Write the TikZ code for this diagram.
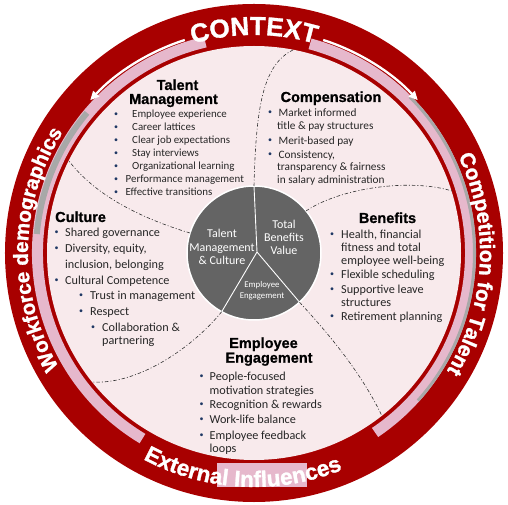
\documentclass[tikz,border=0pt]{standalone}
\usepackage{fontspec}
\setmainfont{Carlito}
\newfontfamily\ringfont[FakeBold=1.2]{Liberation Sans Bold}
\newfontfamily\titlefont[FakeBold=0.8]{Liberation Sans Bold}
\usetikzlibrary{decorations.text,arrows.meta}
\definecolor{ringred}{RGB}{168,0,0}
\definecolor{bandpink}{RGB}{230,184,204}
\definecolor{innerpink}{RGB}{248,234,236}
\definecolor{piegray}{RGB}{100,100,100}
\definecolor{bulletblue}{RGB}{31,56,100}
\definecolor{txtgray}{RGB}{38,38,38}
\definecolor{stripegray}{RGB}{168,168,168}
\begin{document}
\begin{tikzpicture}[x=1pt,y=1pt,
  dashdot/.style={draw=black!80, line width=0.6pt, dash pattern=on 3.5pt off 2pt on 1pt off 2pt},
  ttl/.style={anchor=base, inner sep=0pt, text=black, font=\titlefont\fontsize{14.5}{16}\selectfont},
  ta/.style={anchor=base west, inner sep=0pt, text=txtgray, font=\fontsize{10.9}{12}\selectfont},
  tb/.style={anchor=base west, inner sep=0pt, text=txtgray, font=\fontsize{11.3}{13}\selectfont},
  tc/.style={anchor=base west, inner sep=0pt, text=txtgray, font=\fontsize{12.2}{14}\selectfont},
  bul/.style={inner sep=0pt, text=bulletblue, font=\fontsize{8}{8}\selectfont},
  pietxt/.style={anchor=base, inner sep=0pt, text=white, font=\fontsize{12}{13}\selectfont},
  pietxts/.style={anchor=base, inner sep=0pt, text=white, font=\fontsize{8.8}{10}\selectfont},
  arrowline/.style={draw=white, line width=2.3pt, -{Triangle[length=9pt,width=8pt]}}
]
\useasboundingbox (-254,-252) rectangle (254,253);
% outer ring
\fill[ringred] (0,0) circle[radius=249];
\draw[bandpink, line width=11pt] (103:216.5) arc[start angle=103, end angle=239, radius=216.5];
\draw[bandpink, line width=11pt] (75:216.5) arc[start angle=75, end angle=-56, radius=216.5];
\draw[stripegray, line width=3pt] (45:220.5) arc[start angle=45, end angle=-42, radius=220.5];
\draw[stripegray, line width=6pt] (140:218) arc[start angle=140, end angle=175, radius=218];
\fill[innerpink] (0,0) circle[radius=207];
\fill[bandpink] (-37,-210) rectangle (53,-234);
% arrows
\draw[arrowline] (108:224) arc[start angle=108, end angle=137, radius=224];
\draw[arrowline] (72:224) arc[start angle=72, end angle=43, radius=224];
% ring texts
\path[decorate, decoration={text along path, text align=center,
  text={|\ringfont\fontsize{26}{26}\selectfont\color{white}|CONTEXT}}]
  (150:218) arc[start angle=150, end angle=30, radius=218];
\path[decorate, decoration={text along path, text align=center,
  text={|\ringfont\fontsize{20.5}{21}\selectfont\color{white}|Workforce demographics}}]
  (240:226) arc[start angle=240, end angle=118, radius=226];
\path[decorate, decoration={text along path, text align=center,
  text={|\ringfont\fontsize{21}{21}\selectfont\color{white}|Competition for Talent}}]
  (57:226) arc[start angle=57, end angle=-63, radius=226];
\path[decorate, decoration={text along path, text align=center,
  text={|\ringfont\fontsize{22.5}{23}\selectfont\color{white}|External Influences}}]
  (210:234) arc[start angle=210, end angle=324, radius=234];

% pie
\fill[piegray, draw=white, line width=1.5pt] (0,0) circle[radius=67];
\coordinate (J) at (3,1);
\coordinate (PT) at (0,67);
\coordinate (PL) at (241.2:67);
\coordinate (PR) at (-47.2:67);
\draw[white, line width=0.9pt] (J) -- (PT);
\draw[white, line width=0.9pt] (J) -- (PL);
\draw[white, line width=0.9pt] (J) -- (PR);

\begin{scope}[shift={(-254pt,253pt)}, y=-1pt]
% dash-dot dividers
\draw[dashdot] (254,186) .. controls (256,110) and (262,65) .. (293,50);
\draw[dashdot] (306,211) .. controls (340,188) and (410,178) .. (452,191);
\draw[dashdot] (299.5,302.2) .. controls (325,330) and (360,370) .. (382,416);
\draw[dashdot] (221.7,311.7) .. controls (195,345) and (140,385) .. (92,382);
\draw[dashdot] (190,233) .. controls (140,218) and (95,195) .. (69,161);

% pie texts
\node[pietxt] (p1) at (222,238) {Talent};
\node[pietxt] (p2) at (222,251.5) {Management};
\node[pietxt] (p3) at (222,265) {\& Culture};
\node[pietxt] (p4) at (284,228.3) {Total};
\node[pietxt] (p5) at (284,241.7) {Benefits};
\node[pietxt] (p6) at (284,254.5) {Value};
\node[pietxts] (p7) at (262,287.3) {Employee};
\node[pietxts] (p8) at (262,299) {Engagement};

% Talent Management
\node[ttl] (tmA) at (177.5,90) {Talent};
\node[ttl] (tmB) at (173.5,104) {Management};
\foreach \i/\yy in {1/118,2/131,3/144,4/157,5/170,6/183,7/196}{
  \node[bul] (tmb\i) at (116,\yy-3.2) {•};}
\node[ta] (tm1) at (132,118) {Employee experience};
\node[ta] (tm2) at (132,131) {Career lattices};
\node[ta] (tm3) at (132,144) {Clear job expectations};
\node[ta] (tm4) at (132,157) {Stay interviews};
\node[ta] (tm5) at (132,170) {Organizational learning};
\node[ta] (tm6) at (125.5,183) {Performance management};
\node[ta] (tm7) at (125.5,196) {Effective transitions};

% Compensation
\node[ttl] (cpA) at (331,102) {Compensation};
\node[bul] (cpb1) at (270,116.2-3.3) {•};
\node[bul] (cpb2) at (270,144.2-3.3) {•};
\node[bul] (cpb3) at (270,158.2-3.3) {•};
\node[tb] (cp1) at (278.5,116.2) {Market informed};
\node[tb] (cp2) at (277,129.7) {title \& pay structures};
\node[tb] (cp3) at (278.5,144.2) {Merit-based pay};
\node[tb] (cp4) at (278.5,158.2) {Consistency,};
\node[tb] (cp5) at (277,170.7) {transparency \& fairness};
\node[tb] (cp6) at (277,183.2) {in salary administration};

% Culture
\node[ttl, anchor=base west] (cuA) at (55,222) {Culture};
\node[bul] (cub1) at (56.5,236.5-3.5) {•};
\node[bul] (cub2) at (56.5,252.5-3.5) {•};
\node[bul] (cub3) at (56.5,284.5-3.5) {•};
\node[bul] (cub4) at (81,299.5-3.5) {•};
\node[bul] (cub5) at (81,315.5-3.5) {•};
\node[bul] (cub6) at (93,331.5-3.5) {•};
\node[tc] (cu1) at (65,236.5) {Shared governance};
\node[tc] (cu2) at (65,252.5) {Diversity, equity,};
\node[tc] (cu3) at (65,268.5) {inclusion, belonging};
\node[tc] (cu4) at (65,284.5) {Cultural Competence};
\node[tc] (cu5) at (90,299.5) {Trust in management};
\node[tc] (cu6) at (90,315.5) {Respect};
\node[tc] (cu7) at (102,331.5) {Collaboration \&};
\node[tc] (cu8) at (102,344.5) {partnering};

% Benefits
\node[ttl] (bnA) at (387.5,223) {Benefits};
\node[bul] (bnb1) at (332,238.5-3.5) {•};
\node[bul] (bnb2) at (332,278.5-3.5) {•};
\node[bul] (bnb3) at (332,293.5-3.5) {•};
\node[bul] (bnb4) at (332,320.5-3.5) {•};
\node[tc] (bn1) at (341,238.5) {Health, financial};
\node[tc] (bn2) at (341,251.5) {fitness and total};
\node[tc] (bn3) at (341,264.5) {employee well-being};
\node[tc] (bn4) at (341,278.5) {Flexible scheduling};
\node[tc] (bn5) at (341,293.5) {Supportive leave};
\node[tc] (bn6) at (341,306.5) {structures};
\node[tc] (bn7) at (341,320.5) {Retirement planning};

% Employee Engagement
\node[ttl] (eeA) at (263.5,348) {Employee};
\node[ttl] (eeB) at (269,362.7) {Engagement};
\node[bul] (eeb1) at (201.5,380.5-3.5) {•};
\node[bul] (eeb2) at (201.5,408.5-3.5) {•};
\node[bul] (eeb3) at (201.5,423.5-3.5) {•};
\node[bul] (eeb4) at (201.5,439.5-3.5) {•};
\node[tc] (ee1) at (209.5,380.5) {People-focused};
\node[tc] (ee2) at (209.5,394.5) {motivation strategies};
\node[tc] (ee3) at (209.5,408.5) {Recognition \& rewards};
\node[tc] (ee4) at (209.5,423.5) {Work-life balance};
\node[tc] (ee5) at (209.5,439.5) {Employee feedback};
\node[tc] (ee6) at (209.5,452.5) {loops};
\end{scope}
\end{tikzpicture}
\end{document}
